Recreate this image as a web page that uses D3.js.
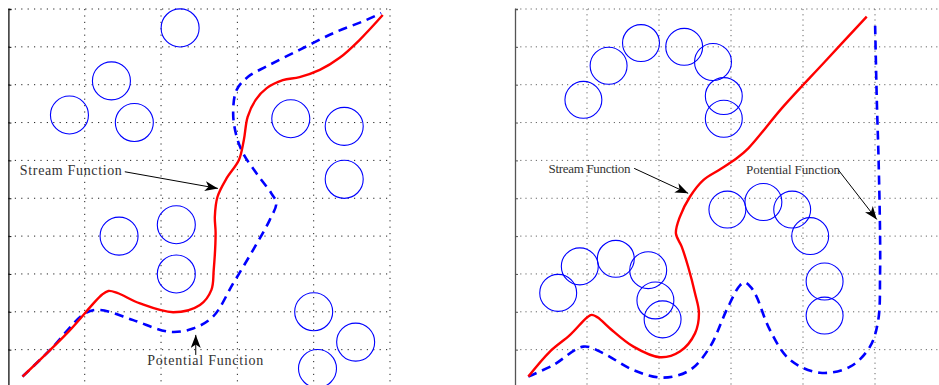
<!DOCTYPE html>
<html>
<head>
<meta charset="utf-8">
<script src="https://cdn.jsdelivr.net/npm/d3@7"></script>
<style>
  html, body { margin: 0; padding: 0; background: #fff; }
  svg { display: block; }
</style>
</head>
<body>
<svg id="chart" width="939" height="385"></svg>
<script>
// ---- Left scene: obstacles, stream and potential paths ----
const leftCircles = [
  [4.5, 9.5], [2.7, 8.1], [1.6, 7.2], [3.3, 7.0], [7.4, 7.1], [8.8, 6.9],
  [8.8, 5.5], [2.9, 4.0], [4.4, 4.3], [4.4, 3.0], [8.0, 2.0], [9.1, 1.2], [8.1, 0.5]
];
const leftStream = [
  [0.37, 0.29], [1.57, 1.47], [2.45, 2.45], [2.62, 2.55], [2.85, 2.50], [3.45, 2.22],
  [4.32, 1.99], [5.02, 2.18], [5.32, 2.58], [5.38, 3.10], [5.43, 4.08], [5.41, 4.51],
  [5.48, 5.04], [5.72, 5.53], [6.04, 6.01], [6.17, 6.54], [6.27, 7.15], [6.48, 7.60],
  [6.77, 7.91], [7.19, 8.12], [7.63, 8.20], [8.16, 8.39], [8.68, 8.71], [9.20, 9.18], [9.81, 9.84]
];
const leftPotential = [
  [0.37, 0.29], [1.09, 0.99], [2.01, 1.96], [2.40, 2.05], [3.27, 1.78], [4.23, 1.47],
  [4.84, 1.56], [5.36, 1.87], [5.89, 2.75], [6.41, 3.63], [6.85, 4.43], [7.02, 4.87],
  [6.89, 5.13], [6.50, 5.66], [6.15, 6.19], [5.98, 6.63], [5.89, 7.24], [5.98, 7.86],
  [6.28, 8.21], [6.76, 8.48], [7.63, 8.92], [8.51, 9.36], [9.38, 9.71], [9.77, 9.89]
];
// label text, text anchor point, arrow start, arrow tip
const leftNotes = [
  { text: "Stream Function",    at: [0.30, 5.61], from: [3.05, 5.70], to: [5.49, 5.26], width: 102 },
  { text: "Potential Function", at: [3.64, 0.59], from: [4.91, 0.86], to: [4.91, 1.39], width: 116 }
];

// ---- Right scene ----
const rightCircles = [
  [1.9, 7.6], [2.6, 8.5], [3.5, 9.1], [4.7, 9.0], [5.5, 8.6], [5.8, 7.7], [5.8, 7.1],
  [5.9, 4.7], [6.9, 4.9], [7.7, 4.7], [8.2, 4.0], [8.6, 2.8], [8.6, 1.9],
  [1.2, 2.5], [1.8, 3.2], [2.8, 3.4], [3.7, 3.1], [3.9, 2.3], [4.1, 1.8]
];
const rightStream = [
  [0.37, 0.29], [0.97, 0.95], [1.53, 1.39], [2.00, 1.85], [2.13, 1.92], [2.30, 1.85],
  [2.64, 1.56], [3.29, 1.08], [4.03, 0.80], [4.58, 0.95], [5.00, 1.43], [5.11, 1.96],
  [5.00, 2.49], [4.81, 3.19], [4.63, 3.72], [4.47, 4.07], [4.58, 4.51], [4.86, 5.04],
  [5.23, 5.48], [5.69, 5.76], [6.15, 6.05], [6.48, 6.32], [7.45, 7.42], [8.60, 8.60], [9.77, 9.80]
];
const rightPotential = [
  [0.37, 0.29], [1.06, 0.59], [1.90, 1.08], [2.46, 0.90], [3.29, 0.46], [4.12, 0.26],
  [4.86, 0.46], [5.42, 1.08], [5.88, 2.05], [6.25, 2.70], [6.39, 2.77], [6.55, 2.65],
  [6.71, 2.40], [7.08, 1.52], [7.64, 0.73], [8.47, 0.39], [9.31, 0.55], [9.86, 1.08],
  [10.09, 1.78], [10.14, 3.00], [10.14, 4.07], [10.10, 6.00], [10.05, 7.60], [10.00, 9.71]
];
const rightNotes = [
  { text: "Stream Function",    at: [0.93, 5.67], from: [3.31, 5.79], to: [4.81, 5.13], width: 82 },
  { text: "Potential Function", at: [6.42, 5.64], from: [8.98, 5.75], to: [10.05, 4.44], width: 94 }
];

const xGridValues = [2, 4, 6, 8, 10, 12];
const yGridValues = [1, 2, 3, 4, 5, 6, 7, 8, 9, 10];

const svg = d3.select("#chart");

// arrowhead shared by all callouts
svg.append("defs").append("marker")
  .attr("id", "head")
  .attr("viewBox", "0 0 13 10")
  .attr("refX", 13).attr("refY", 5)
  .attr("markerWidth", 13).attr("markerHeight", 10)
  .attr("markerUnits", "userSpaceOnUse")
  .attr("orient", "auto")
  .append("path")
  .attr("d", "M0,0 L13,5 L0,10 L3.5,5 Z")
  .attr("fill", "#000");

function panel(cfg) {
  const x = d3.scaleLinear().domain(cfg.xDomain).range(cfg.xRange);
  const y = d3.scaleLinear().domain([0, 10]).range([387.5, 9]);
  const g = svg.append("g");
  const right = Math.min(x(cfg.xDomain[1]), 939);

  // dotted grid
  g.selectAll(".hg").data(yGridValues).join("line")
    .attr("x1", x(0)).attr("x2", right)
    .attr("y1", d => y(d)).attr("y2", d => y(d))
    .attr("stroke", cfg.gridColor).attr("stroke-width", 1)
    .attr("stroke-dasharray", cfg.dash);
  g.selectAll(".vg").data(xGridValues.filter(v => v <= cfg.xDomain[1])).join("line")
    .attr("x1", d => x(d)).attr("x2", d => x(d))
    .attr("y1", y(10)).attr("y2", 385)
    .attr("stroke", cfg.gridColor).attr("stroke-width", 1)
    .attr("stroke-dasharray", cfg.dash);

  // left axis with ticks
  const axis = d3.axisRight(y).tickValues(yGridValues).tickSize(3).tickFormat("");
  const ag = g.append("g").attr("transform", `translate(${x(0)},0)`).call(axis);
  ag.select(".domain").attr("stroke", cfg.axisColor).attr("stroke-width", 1.3);
  ag.selectAll(".tick line").attr("stroke", cfg.axisColor);

  // obstacles
  g.selectAll("circle").data(cfg.circles).join("circle")
    .attr("cx", d => x(d[0])).attr("cy", d => y(d[1]))
    .attr("r", d => (x(0.5) - x(0) + y(0) - y(0.5)) / 2)
    .attr("fill", "none").attr("stroke", "#0000ff").attr("stroke-width", 1.1);

  const line = d3.line().x(d => x(d[0])).y(d => y(d[1])).curve(d3.curveCatmullRom.alpha(0.5));

  g.append("path").datum(cfg.potential).attr("d", line)
    .attr("fill", "none").attr("stroke", "#0000ff").attr("stroke-width", 2.6)
    .attr("stroke-dasharray", "9,6");
  g.append("path").datum(cfg.stream).attr("d", line)
    .attr("fill", "none").attr("stroke", "#ff0000").attr("stroke-width", 2.4);

  // callouts
  cfg.notes.forEach(n => {
    g.append("line")
      .attr("x1", x(n.from[0])).attr("y1", y(n.from[1]))
      .attr("x2", x(n.to[0])).attr("y2", y(n.to[1]))
      .attr("stroke", "#000").attr("stroke-width", 1)
      .attr("marker-end", "url(#head)");
    g.append("text")
      .attr("x", x(n.at[0])).attr("y", y(n.at[1]))
      .attr("font-family", "'Liberation Serif', 'DejaVu Serif', serif")
      .attr("font-size", cfg.fontSize)
      .attr("fill", "#333")
      .attr("textLength", n.width).attr("lengthAdjust", "spacing")
      .text(n.text);
  });
}

panel({
  xDomain: [0, 10], xRange: [8.4, 390],
  circles: leftCircles, stream: leftStream, potential: leftPotential, notes: leftNotes,
  gridColor: "#222", axisColor: "#111", dash: "1.2,5.2", fontSize: 14
});
panel({
  xDomain: [0, 12], xRange: [515, 947],
  circles: rightCircles, stream: rightStream, potential: rightPotential, notes: rightNotes,
  gridColor: "#666", axisColor: "#555", dash: "1.2,4", fontSize: 13
});
</script>
</body>
</html>
